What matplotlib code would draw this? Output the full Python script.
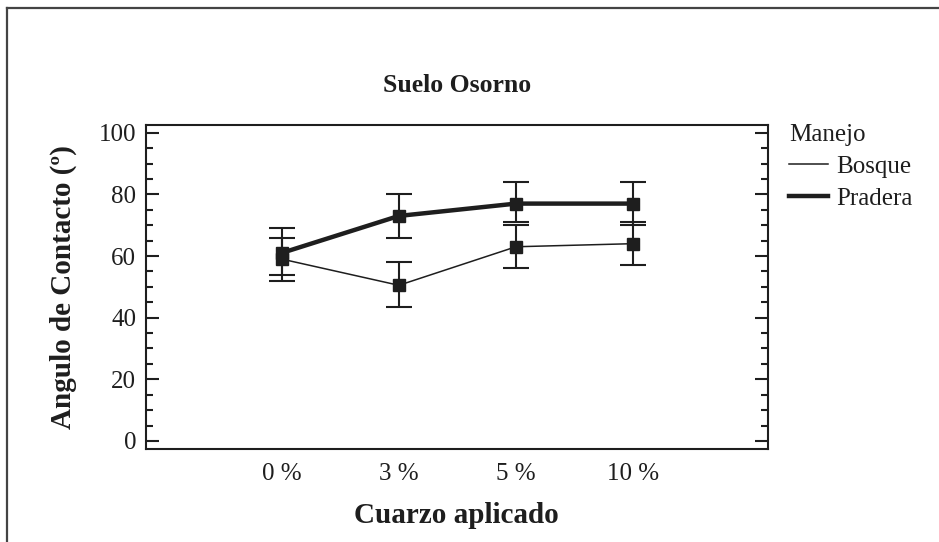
import matplotlib.pyplot as plt
from matplotlib.lines import Line2D
from matplotlib.ticker import MultipleLocator
import numpy as np

# data
cuarzo = ['0 %', '3 %', '5 %', '10 %']
pradera = [61, 73, 77, 77]
pradera_lo = [7, 7, 6, 7]
pradera_hi = [8, 7, 7, 7]
bosque = [59, 50.5, 63, 64]
bosque_lo = [7, 7, 7, 7]
bosque_hi = [7, 7.5, 7, 7]

plt.rcParams['font.family'] = ['Liberation Serif', 'DejaVu Serif']
ink = '#1e1e1e'

fig = plt.figure(figsize=(9.39, 5.42), dpi=100)
ax = fig.add_axes([0.1555, 0.1716, 0.662, 0.5978])

x = np.arange(len(cuarzo))
ax.errorbar(x, bosque, yerr=[bosque_lo, bosque_hi], color=ink, lw=1.1,
            marker='s', ms=8, capsize=9.5, elinewidth=1.5, capthick=1.5, zorder=3)
ax.errorbar(x, pradera, yerr=[pradera_lo, pradera_hi], color=ink, lw=3.2,
            marker='s', ms=9, capsize=9.5, elinewidth=1.5, capthick=1.5, zorder=4)

ax.set_xlim(-1.16, 4.15)
ax.set_ylim(-2.6, 102.5)
ax.set_xticks(x)
ax.set_xticklabels(cuarzo, fontsize=18, color=ink)
ax.tick_params(axis='x', length=0, pad=10)
ax.yaxis.set_major_locator(MultipleLocator(20))
ax.yaxis.set_minor_locator(MultipleLocator(5))
ax.tick_params(axis='y', which='major', direction='in', length=9.5, width=1.5,
               left=True, right=True, labelsize=18, labelcolor=ink, color=ink, pad=7)
ax.tick_params(axis='y', which='minor', direction='in', length=5, width=1.5,
               left=True, right=True, color=ink)
for s in ax.spines.values():
    s.set_linewidth(1.5)
    s.set_color(ink)

ax.set_title('Suelo Osorno', fontsize=18.5, fontweight='bold', color=ink, pad=24)
ax.set_xlabel('Cuarzo aplicado', fontsize=21, fontweight='bold', color=ink, labelpad=12)
ax.set_ylabel('Angulo de Contacto (º)', fontsize=21, fontweight='bold', color=ink, labelpad=15.5)

handles = [Line2D([], [], color=ink, lw=1.1), Line2D([], [], color=ink, lw=3.2)]
leg = ax.legend(handles, ['Bosque', 'Pradera'], title='Manejo', frameon=False,
                fontsize=18, title_fontsize=18, loc='upper left',
                bbox_to_anchor=(0.84, 0.771), bbox_transform=fig.transFigure,
                handlelength=1.55, handletextpad=0.35, labelspacing=0.38,
                borderpad=0, borderaxespad=0, alignment='left')
for t in leg.get_texts():
    t.set_color(ink)
leg.get_title().set_color(ink)

# page frame (top and left edges of the scanned figure)
fig.add_artist(Line2D([6.5 / 939, 6.5 / 939], [0, 1 - 8 / 542], color='#444444', lw=1.6,
                      transform=fig.transFigure))
fig.add_artist(Line2D([6.5 / 939, 1], [1 - 8 / 542, 1 - 8 / 542], color='#444444', lw=1.6,
                      transform=fig.transFigure))

fig.savefig('out.png', dpi=100)
